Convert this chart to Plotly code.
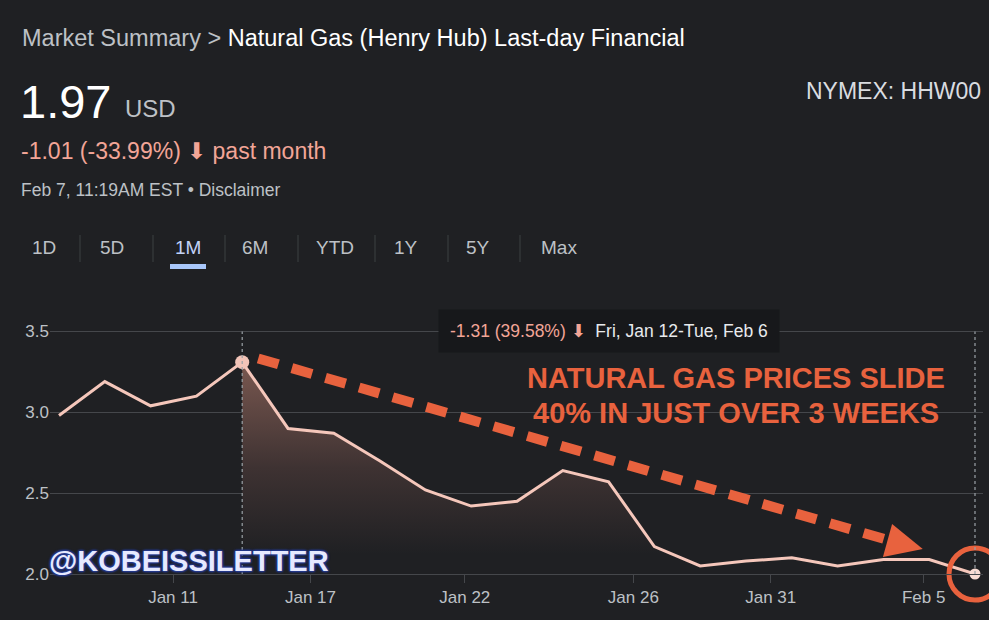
import plotly.graph_objects as go

# ---------------- data ----------------
dates = ["Jan 8", "Jan 9", "Jan 10", "Jan 11", "Jan 12", "Jan 16", "Jan 17", "Jan 18",
         "Jan 19", "Jan 22", "Jan 23", "Jan 24", "Jan 25", "Jan 26", "Jan 29", "Jan 30",
         "Jan 31", "Feb 1", "Feb 2", "Feb 5", "Feb 6"]
prices = [2.98, 3.19, 3.04, 3.10, 3.31, 2.90, 2.87, 2.70, 2.52, 2.42, 2.45, 2.64, 2.57,
          2.17, 2.05, 2.08, 2.10, 2.05, 2.09, 2.09, 2.00]
x_tick_labels = ["Jan 11", "Jan 17", "Jan 22", "Jan 26", "Jan 31", "Feb 5"]
y_tick_values = [2.0, 2.5, 3.0, 3.5]
tabs = ["1D", "5D", "1M", "6M", "YTD", "1Y", "5Y", "Max"]
range_start = "Jan 12"
range_end = "Feb 6"

# ---------------- layout geometry / styles ----------------
W, H = 989, 620
L, R, T, B = 50, 6, 329, 46
PW, PH = W - L - R, H - T - B
x_tick_pos = [2.49, 5.49, 8.86, 12.54, 15.54, 18.88]
tab_x = [44, 112, 188, 255, 335, 406, 478, 559]
sep_x = [80, 153, 225, 298, 375, 448, 520]


def fx(px):
    return (px - L) / PW


def fy(py):
    return (H - B - py) / PH


FONT = "Arial, Liberation Sans, sans-serif"
BG = "#1f2023"
GRID = "#45474b"
LINE = "#f5c7bb"
ORANGE = "#e8623e"
SALMON = "#f2a597"
GREY = "#bdc1c6"
WHITE = "#e8eaed"

xs = list(range(len(dates)))
i0 = dates.index(range_start)
i1 = dates.index(range_end)

fig = go.Figure()

# gradient fill under the selected range
fig.add_trace(go.Scatter(
    x=xs[i0:i1 + 1], y=prices[i0:i1 + 1], mode="lines", line=dict(width=0),
    fill="tozeroy",
    fillgradient=dict(type="vertical",
                      colorscale=[[0, "rgba(31,32,35,1)"], [0.45, "rgba(62,50,50,1)"],
                                  [1, "rgba(122,88,80,1)"]],
                      start=2.12, stop=max(prices)),
    hoverinfo="skip", showlegend=False))

# price line
fig.add_trace(go.Scatter(x=xs, y=prices, mode="lines",
                         line=dict(color=LINE, width=3), cliponaxis=False,
                         showlegend=False))

# selection markers
fig.add_trace(go.Scatter(x=[xs[i0]], y=[prices[i0]], mode="markers",
                         marker=dict(size=14, color="#f2c4b8"), cliponaxis=False,
                         showlegend=False))
fig.add_trace(go.Scatter(x=[xs[i1]], y=[prices[i1]], mode="markers",
                         marker=dict(size=11, color="#f8dcd4"), cliponaxis=False,
                         showlegend=False))
# orange ring around the last point
fig.add_trace(go.Scatter(x=[xs[i1]], y=[prices[i1]], mode="markers",
                         marker=dict(size=52, color="rgba(0,0,0,0)",
                                     line=dict(color=ORANGE, width=5)),
                         cliponaxis=False, showlegend=False))

shapes = []
# dotted range lines
for xi in (xs[i0], xs[i1]):
    shapes.append(dict(type="line", xref="x", yref="y", x0=xi, x1=xi,
                       y0=min(y_tick_values), y1=max(y_tick_values),
                       line=dict(color="#9aa0a6", width=1.2, dash="dot"), layer="above"))
# dashed orange arrow
shapes.append(dict(type="line", xref="x", yref="y", x0=4.35, y0=3.333, x1=18.10, y1=2.21,
                   line=dict(color=ORANGE, width=10, dash="21px,14px"), layer="above"))
shapes.append(dict(type="path", xref="x", yref="y",
                   path="M 18.19,2.309 L 18.86,2.154 L 17.99,2.105 Z",
                   fillcolor=ORANGE, line=dict(width=0), layer="above"))
# tab separators
for sx in sep_x:
    shapes.append(dict(type="line", xref="paper", yref="paper", x0=fx(sx), x1=fx(sx),
                       y0=fy(235), y1=fy(262), line=dict(color="#3c4043", width=1)))
# selected tab underline
shapes.append(dict(type="rect", xref="paper", yref="paper", x0=fx(170), x1=fx(206),
                   y0=fy(269), y1=fy(264), fillcolor="#a8c7fa", line=dict(width=0)))

ann = []


def text(px, py, s, size, color, xanchor="left", bold=False, **kw):
    ann.append(dict(xref="paper", yref="paper", x=fx(px), y=fy(py), text=s,
                    showarrow=False, xanchor=xanchor, yanchor="middle",
                    font=dict(family=FONT, size=size, color=color,
                              weight="bold" if bold else "normal", **kw)))


text(20, 38, f"<span style='color:{GREY}'>Market Summary &gt; </span>"
             f"<span style='color:#ffffff'>Natural Gas (Henry Hub) Last-day Financial</span>",
     23.5, WHITE)
text(18, 101, f"{prices[-1] - 0.03:.2f}", 47, "#ffffff")
text(123, 109, "USD", 24, GREY)
text(983, 91, "NYMEX: HHW00", 23, "#dadce0", xanchor="right")
text(19, 151, "-1.01 (-33.99%) ⬇ past month", 23, SALMON)
text(19, 190, "Feb 7, 11:19AM EST • Disclaimer", 17.5, GREY)
for tx, lab in zip(tab_x, tabs):
    text(tx, 247, lab, 19, "#c2d3f7" if lab == "1M" else GREY, xanchor="center")

chg = prices[i1] - prices[i0]
pct = abs(chg) / prices[i0] * 100
ann.append(dict(xref="paper", yref="paper", x=fx(609), y=fy(331),
                text=f"<span style='color:{SALMON}'>{chg:.2f} ({pct:.2f}%) ⬇</span>  "
                     f"<span style='color:{WHITE}'>Fri, {range_start}-Tue, {range_end}</span>",
                showarrow=False, xanchor="center", yanchor="middle",
                bgcolor="#17181b", borderpad=11,
                font=dict(family=FONT, size=17.5, color=WHITE)))

text(736, 378, "NATURAL GAS PRICES SLIDE", 29, ORANGE, xanchor="center", bold=True)
text(736, 413, "40% IN JUST OVER 3 WEEKS", 29, ORANGE, xanchor="center", bold=True)
text(47, 561, "@KOBEISSILETTER", 29, "#e6e9ff", bold=True,
     shadow="1px 1px 2px #23388f, -1px -1px 2px #23388f, 1px -1px 2px #23388f, -1px 1px 2px #23388f")

fig.update_layout(
    width=W, height=H, autosize=False,
    margin=dict(l=L, r=R, t=T, b=B, pad=0),
    paper_bgcolor=BG, plot_bgcolor=BG,
    font=dict(family=FONT, color=GREY),
    showlegend=False,
    shapes=shapes, annotations=ann,
    xaxis=dict(range=[-0.1965, 20.175], tickvals=x_tick_pos, ticktext=x_tick_labels,
               ticks="outside", ticklen=8, tickcolor=GRID, tickwidth=1,
               showgrid=False, zeroline=False, showline=True, linecolor=GRID, linewidth=1,
               tickfont=dict(size=17, color=GREY), fixedrange=True),
    yaxis=dict(range=[2.0, 3.515], tickvals=y_tick_values,
               ticktext=[f"{v:.1f}" for v in y_tick_values],
               showgrid=True, gridcolor=GRID, gridwidth=1, zeroline=False, showline=False,
               ticks="", tickfont=dict(size=17, color=GREY), fixedrange=True),
)

fig.write_html("out.html", config={"displayModeBar": False},
               post_script="document.body.style.margin='0';document.body.style.padding='0';"
                           "document.body.style.overflow='hidden';")
